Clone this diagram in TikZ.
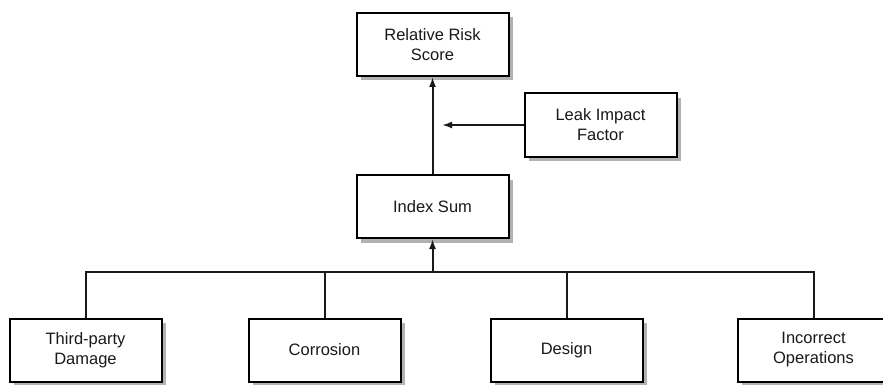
\documentclass[tikz,border=0pt]{standalone}
\usepackage{fontspec}
\setmainfont{Liberation Sans}
\usetikzlibrary{shadows,arrows.meta}
\begin{document}
\begin{tikzpicture}[x=1pt,y=-1pt,
  box/.style={draw=black, line width=2pt, fill=white, minimum width=152pt, minimum height=63pt,
    align=center, inner sep=0pt, font=\fontsize{16.5}{20}\selectfont, text=black!90,
    drop shadow={shadow xshift=4.5pt, shadow yshift=-4.5pt, fill=black!30, opacity=1}},
  conn/.style={draw=black!90, line width=2pt},
  arr/.style={conn, -{Latex[length=10pt,width=7pt]}}]
\useasboundingbox (0,0) rectangle (883,385);
\node[box] (rrs) at (432.5,44.5) {Relative Risk\\Score};
\node[box] (lif) at (600.5,125) {Leak Impact\\Factor};
\node[box] (idx) at (432.5,206.5) {Index Sum};
\node[box] (tpd) at (85.5,350) {Third-party\\Damage};
\node[box] (cor) at (324.5,350) {Corrosion};
\node[box] (des) at (566.5,350) {Design};
\node[box] (ino) at (813.5,350) {Incorrect\\Operations};
\coordinate (bus) at (432.5,272);
\coordinate (merge) at (442,125);
\draw[arr] (idx.north) -- (rrs.south);
\draw[arr] (lif.west) -- (merge);
\draw[conn] (tpd.north) |- (bus) -| (ino.north);
\draw[conn] (cor.north) -- (cor.north |- bus);
\draw[conn] (des.north) -- (des.north |- bus);
\draw[arr] (bus) -- (idx.south);
\end{tikzpicture}
\end{document}
